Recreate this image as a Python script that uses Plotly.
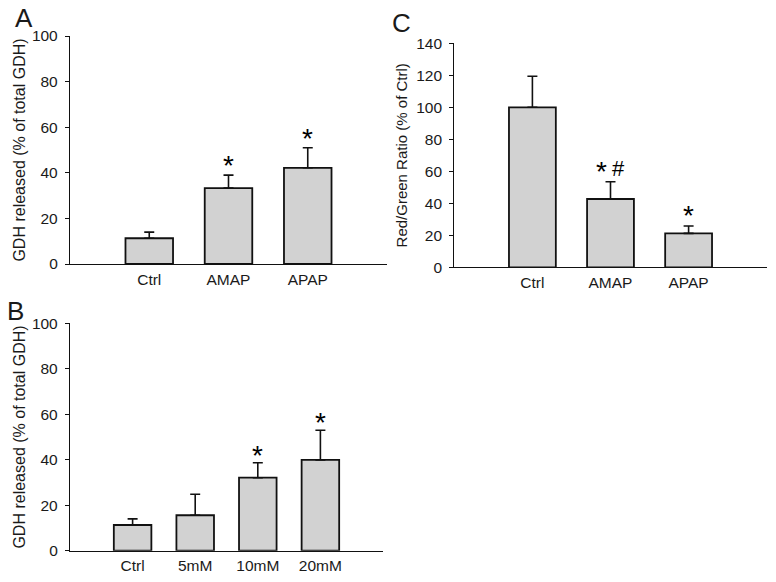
import plotly.graph_objects as go

# Panel A
a_cats = ["Ctrl", "AMAP", "APAP"]
a_vals = [11.3, 33.3, 42.2]
a_err = [2.7, 5.7, 8.8]
a_marks = ["", "*", "*"]

# Panel B
b_cats = ["Ctrl", "5mM", "10mM", "20mM"]
b_vals = [11.3, 15.6, 32.1, 39.9]
b_err = [2.7, 9.2, 6.6, 13.1]
b_marks = ["", "", "*", "*"]

# Panel C
c_cats = ["Ctrl", "AMAP", "APAP"]
c_vals = [100.0, 42.7, 21.2]
c_err = [19.4, 10.8, 4.6]
c_marks = ["", "* #", "*"]

FONT = "Liberation Sans, Arial, sans-serif"
TXT = "#1a1a1a"
FILL = "#d2d2d2"

# page body margin offset (8px) compensation
OFF = 8
W, H = 776 - 2 * OFF, 582 - 2 * OFF


def fx(p):
    return (p - OFF) / W


def fy(p):
    return 1 - (p - OFF) / H


fig = go.Figure()

panels = [
    ("x", "y", a_cats, a_vals, a_err, a_marks),
    ("x2", "y2", b_cats, b_vals, b_err, b_marks),
    ("x3", "y3", c_cats, c_vals, c_err, c_marks),
]

for xa, ya, cats, vals, errs, marks in panels:
    fig.add_trace(go.Bar(
        x=list(range(len(cats))), y=vals, xaxis=xa, yaxis=ya, width=0.6,
        marker=dict(color=FILL, line=dict(color="#111111", width=1.8)),
        error_y=dict(type="data", symmetric=False, array=errs,
                     arrayminus=[0] * len(errs), color="#111111",
                     thickness=1.6, width=5),
        showlegend=False, hoverinfo="skip",
    ))

annotations = []
shift = {"x": 4, "x2": 2, "x3": 5}
for xa, ya, cats, vals, errs, marks in panels:
    for i, m in enumerate(marks):
        if not m:
            continue
        parts = m.split(" ")
        for k, p in enumerate(parts):
            xs = 0 if len(parts) == 1 else (-9 if k == 0 else 8)
            if p == "*":
                annotations.append(dict(
                    x=i, y=vals[i] + errs[i], xref=xa, yref=ya, text=p,
                    showarrow=False, yanchor="bottom", xshift=xs,
                    yshift=shift[xa] - 12,
                    font=dict(family=FONT, size=28, color="#000000"),
                ))
            else:
                annotations.append(dict(
                    x=i, y=vals[i] + errs[i], xref=xa, yref=ya, text=p,
                    showarrow=False, yanchor="bottom", xshift=xs, yshift=-1,
                    font=dict(family=FONT, size=22, color="#000000"),
                ))

# Panel letters
for letter, px, py in [("A", 24, 17.5), ("B", 15.5, 311), ("C", 401, 23.5)]:
    annotations.append(dict(
        x=fx(px), y=fy(py), xref="paper", yref="paper", text=letter,
        showarrow=False, xanchor="center", yanchor="middle",
        font=dict(family=FONT, size=26, color=TXT),
    ))

common_y = dict(showline=True, linecolor="#111111", linewidth=1.3,
                ticks="outside", ticklen=4, tickcolor="#111111", tickwidth=1.3,
                showgrid=False, zeroline=False, automargin=False,
                ticklabelstandoff=4,
                tickfont=dict(family=FONT, size=15.5, color=TXT))
common_x = dict(showline=True, linecolor="#111111", linewidth=1.3,
                ticks="", showgrid=False, zeroline=False, automargin=False,
                ticklabelstandoff=1,
                tickfont=dict(family=FONT, size=15.5, color=TXT))

fig.update_layout(
    width=W, height=H, margin=dict(l=0, r=0, t=0, b=0, autoexpand=False),
    paper_bgcolor="white", plot_bgcolor="white",
    annotations=annotations,
    xaxis=dict(domain=[fx(70), fx(387)], range=[-1, 3], anchor="y",
               tickvals=list(range(len(a_cats))), ticktext=a_cats, **common_x),
    yaxis=dict(domain=[fy(264), fy(36)], range=[0, 100], anchor="x",
               dtick=20,
               title=dict(text="GDH released (% of total GDH)",
                          font=dict(family=FONT, size=16, color=TXT), standoff=2),
               **common_y),
    xaxis2=dict(domain=[fx(70), fx(383)], range=[-1, 4], anchor="y2",
                tickvals=list(range(len(b_cats))), ticktext=b_cats, **common_x),
    yaxis2=dict(domain=[fy(550.7), fy(323.3)], range=[0, 100], anchor="x2",
                dtick=20,
                title=dict(text="GDH released (% of total GDH)",
                           font=dict(family=FONT, size=16, color=TXT), standoff=2),
                **common_y),
    xaxis3=dict(domain=[fx(454.3), fx(766.7)], range=[-1, 3], anchor="y3",
                tickvals=list(range(len(c_cats))), ticktext=c_cats, **common_x),
    yaxis3=dict(domain=[fy(267.3), fy(43.3)], range=[0, 140], anchor="x3",
                dtick=20,
                title=dict(text="Red/Green Ratio (% of Ctrl)",
                           font=dict(family=FONT, size=15, color=TXT), standoff=4),
                **common_y),
)

fig.write_html("out.html")
